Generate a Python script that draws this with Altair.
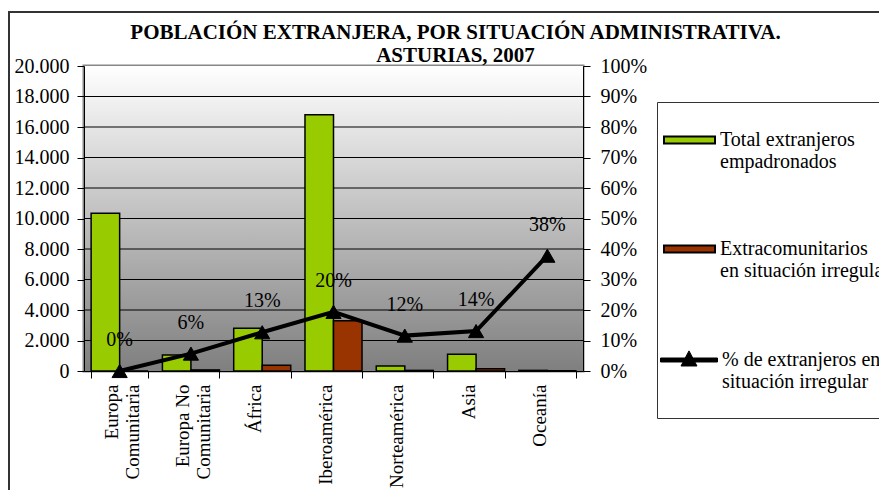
import altair as alt
import pandas as pd

# ---- data ----
categorias = ["Europa\nComunitaria", "Europa No\nComunitaria", "África", "Iberoamérica",
              "Norteamérica", "Asia", "Oceanía"]
total_empadronados = [10350, 1050, 2800, 16800, 330, 1100, 40]
irregulares = [0, 70, 370, 3300, 40, 150, 15]
pct_irregular = [0.0, 0.057, 0.127, 0.194, 0.116, 0.131, 0.378]
pct_etiquetas = ["0%", "6%", "13%", "20%", "12%", "14%", "38%"]
series_barras = ["Total extranjeros\nempadronados", "Extracomunitarios\nen situación irregular"]
serie_linea = "% de extranjeros en\nsituación irregular"
colores_barras = ["#99cc00", "#993300"]
ticks_izq = list(range(0, 20001, 2000))
ticks_der = [i / 10 for i in range(0, 11)]

# ---- tables built from the lists ----
filas = []
for i, c in enumerate(categorias):
    filas.append({"categoria": c, "serie": series_barras[0], "valor": total_empadronados[i]})
    filas.append({"categoria": c, "serie": series_barras[1], "valor": irregulares[i]})
df_barras = pd.DataFrame(filas)
df_pct = pd.DataFrame({"categoria": categorias, "pct": pct_irregular,
                       "etiqueta": pct_etiquetas, "serie": [serie_linea] * len(categorias)})
df_grid = pd.DataFrame({"valor": [t for t in ticks_izq if 0 < t < 20000]})

W, H = 499, 305
FONT = "Liberation Serif"

x_scale = alt.Scale(domain=categorias, paddingInner=0.2, paddingOuter=0.1)
x_axis = alt.Axis(title=None, labelAngle=-90, labelExpr="split(datum.label, '\\n')",
                  labelOffset=-8,
                  tickBand="extent", tickSize=7, labelPadding=6, labelFont=FONT,
                  labelFontSize=19, labelColor="black", domainColor="black",
                  tickColor="black", grid=False, labelLimit=0, zindex=1)
y_cnt_scale = alt.Scale(domain=[0, 20000], nice=False)
y_axis_izq = alt.Axis(title=None, values=ticks_izq,
                      labelExpr="replace(format(datum.value, ',d'), ',', '.')",
                      labelFont=FONT, labelFontSize=20, labelColor="black",
                      labelPadding=8, tickSize=7, tickColor="black",
                      domainColor="black", grid=False, zindex=1)
y_pct_scale = alt.Scale(domain=[0, 1], nice=False)
y_axis_der = alt.Axis(title=None, orient="right", values=ticks_der, format=".0%",
                      labelFont=FONT, labelFontSize=20, labelColor="black",
                      labelPadding=10, tickSize=7, tickColor="black",
                      domainColor="black", grid=False, zindex=1)

bar_symbol = "M-1,-0.137H1V0.137H-1Z"
line_symbol = "M-1,-0.07H1V0.07H-1Z M-0.28,0.21L0,-0.32L0.28,0.21Z"

deco = alt.Data(values=[{"k": 1}])
fondo = alt.Chart(deco).mark_rect(
    fill=alt.LinearGradient(gradient="linear", x1=0, y1=0, x2=0, y2=1,
                            stops=[alt.GradientStop(color="#ffffff", offset=0),
                                   alt.GradientStop(color="#7f7f7f", offset=1)])
).encode(x=alt.value(0), x2=alt.value(W), y=alt.value(0), y2=alt.value(H))

borde = alt.Chart(deco).mark_rect(filled=False, stroke="#333333", strokeWidth=2).encode(
    x=alt.value(-75), x2=alt.value(830), y=alt.value(-54), y2=alt.value(460))
caja_leyenda = alt.Chart(deco).mark_rect(filled=False, stroke="#333333", strokeWidth=1).encode(
    x=alt.value(573.5), x2=alt.value(830), y=alt.value(36.5), y2=alt.value(352.5))

rejilla = alt.Chart(df_grid).mark_rule(color="black", strokeWidth=1).encode(
    y=alt.Y("valor:Q", scale=y_cnt_scale, axis=None),
    x=alt.value(0), x2=alt.value(W))

bars = alt.Chart(df_barras).mark_bar(stroke="black", strokeWidth=1.5).encode(
    x=alt.X("categoria:N", sort=categorias, scale=x_scale, axis=x_axis),
    xOffset=alt.XOffset("serie:N", sort=series_barras,
                        scale=alt.Scale(domain=series_barras, paddingInner=0, paddingOuter=0)),
    y=alt.Y("valor:Q", scale=y_cnt_scale, axis=y_axis_izq),
    fill=alt.Fill("serie:N", sort=series_barras,
                  scale=alt.Scale(domain=series_barras, range=colores_barras),
                  legend=alt.Legend(title=None, orient="none", legendX=579, legendY=47.5,
                                    symbolType=bar_symbol, symbolSize=2601,
                                    symbolStrokeColor="black", symbolStrokeWidth=2,
                                    labelFont=FONT, labelFontSize=20, labelColor="black",
                                    labelExpr="split(datum.label, '\\n')", labelLimit=0,
                                    labelOffset=4, rowPadding=50, padding=0)),
)

x_b = alt.X("categoria:N", sort=categorias, scale=x_scale)

linea = alt.Chart(df_pct).mark_line(color="black", strokeWidth=4).encode(
    x=x_b,
    y=alt.Y("pct:Q", scale=y_pct_scale, axis=y_axis_der),
)
puntos = alt.Chart(df_pct).mark_point(shape="triangle-up", filled=True, size=230,
                                       opacity=1, stroke="black", strokeWidth=1).encode(
    x=x_b,
    y=alt.Y("pct:Q", scale=y_pct_scale, axis=None),
    fill=alt.Fill("serie:N", scale=alt.Scale(domain=[serie_linea], range=["black"]),
                  legend=alt.Legend(title=None, orient="none", legendX=576, legendY=265,
                                    symbolType=line_symbol, symbolSize=3249,
                                    symbolStrokeColor="black", symbolStrokeWidth=1,
                                    labelFont=FONT, labelFontSize=20, labelColor="black",
                                    labelExpr="split(datum.label, '\\n')", labelLimit=0,
                                    labelOffset=4, padding=0)),
)
etiquetas = alt.Chart(df_pct).mark_text(dy=-31, font=FONT, fontSize=20, color="black").encode(
    x=x_b,
    y=alt.Y("pct:Q", scale=y_pct_scale, axis=None),
    text="etiqueta:N",
)

chart = alt.layer(fondo, borde, caja_leyenda, rejilla, bars, linea, puntos, etiquetas).resolve_scale(
    y="independent", fill="independent"
).properties(
    width=W, height=H,
    autosize=alt.AutoSizeParams(type="none"),
    padding={"left": 76, "top": 58, "right": 296, "bottom": 119},
    title=alt.TitleParams(
        text=["POBLACIÓN EXTRANJERA, POR SITUACIÓN ADMINISTRATIVA.", "ASTURIAS, 2007"],
        font=FONT, fontSize=21, fontWeight="bold", color="black", lineHeight=23,
        anchor="middle", frame="group", dx=122, dy=59, offset=4),
).configure(
    background="white", font=FONT,
).configure_axis(
    labelFont=FONT,
).configure_legend(
    labelFont=FONT,
).configure_view(
    stroke="#888888", strokeWidth=3,
)

chart.save("out.html", embed_options={"renderer": "svg", "actions": False})
